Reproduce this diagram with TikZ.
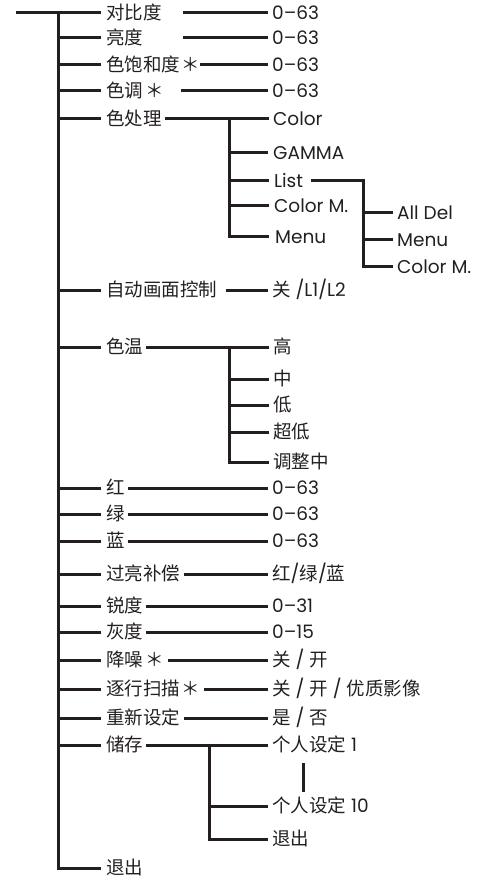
\documentclass[tikz,border=0pt]{standalone}
\usepackage{fontspec}
\setmainfont{Poppins}
\newfontfamily\cjk{Noto Sans CJK SC}
\newcommand\zh[1]{{\cjk\fontsize{18.5}{20}\selectfont #1}}
\definecolor{ink}{HTML}{231F20}
\begin{document}
\begin{tikzpicture}[x=1pt,y=-1pt,
  ln/.style={line width=3pt, draw=ink},
  lab/.style={anchor=west, inner sep=0pt, text height=13pt, text depth=0pt, text=ink,
              font=\fontsize{18.5}{20}\selectfont}]
\useasboundingbox (0,0) rectangle (494,882);
% ---------- main labels
\node[lab] (l1) at (106,13) {\zh{对比度}};
\node[lab] (l2) at (106,38) {\zh{亮度}};
\node[lab] (l3) at (106,65) {\zh{色饱和度\hspace{1pt}＊}};
\node[lab] (l4) at (106,91) {\zh{色调\hspace{2pt}＊}};
\node[lab] (l5) at (106,119) {\zh{色处理}};
\node[lab] (l6) at (106,290) {\zh{自动画面控制}};
\node[lab] (l7) at (106,347) {\zh{色温}};
\node[lab] (l8) at (106,488) {\zh{红}};
\node[lab] (l9) at (106,514) {\zh{绿}};
\node[lab] (l10) at (106,541) {\zh{蓝}};
\node[lab] (l11) at (106,574) {\zh{过亮补偿}};
\node[lab] (l12) at (106,606) {\zh{锐度}};
\node[lab] (l13) at (106,632) {\zh{灰度}};
\node[lab] (l14) at (106,660) {\zh{降噪\hspace{2pt}＊}};
\node[lab] (l15) at (106,689) {\zh{逐行扫描\hspace{1pt}＊}};
\node[lab] (l16) at (106,718) {\zh{重新设定}};
\node[lab] (l17) at (106,745) {\zh{储存}};
\node[lab] (l18) at (106,868) {\zh{退出}};
% ---------- values
\node[lab] (v1) at (272,13) {0–63};
\node[lab] (v2) at (272,38) {0–63};
\node[lab] (v3) at (272,65) {0–63};
\node[lab] (v4) at (272,91) {0–63};
\node[lab] (c1) at (273,119) {Color};
\node[lab] (c2) at (273,153) {GAMMA};
\node[lab] (c3) at (274,181) {List};
\node[lab] (c4) at (274,206) {Color M.};
\node[lab] (c5) at (275,237) {Menu};
\node[lab] (d1) at (397,213) {All Del};
\node[lab] (d2) at (397,240) {Menu};
\node[lab] (d3) at (397,267) {Color M.};
\node[lab] (v6) at (272,290) {\zh{关} /L1/L2};
\node[lab] (t1) at (273,347) {\zh{高}};
\node[lab] (t2) at (273,379) {\zh{中}};
\node[lab] (t3) at (273,405) {\zh{低}};
\node[lab] (t4) at (273,432) {\zh{超低}};
\node[lab] (t5) at (273,462) {\zh{调整中}};
\node[lab] (v8) at (272,488) {0–63};
\node[lab] (v9) at (272,514) {0–63};
\node[lab] (v10) at (272,541) {0–63};
\node[lab] (v11) at (272,574) {\zh{红}/\zh{绿}/\zh{蓝}};
\node[lab] (v12) at (272,606) {0–31};
\node[lab] (v13) at (272,632) {0–15};
\node[lab] (v14) at (272,660) {\zh{关} / \zh{开}};
\node[lab] (v15) at (272,689) {\zh{关} / \zh{开} / \zh{优质影像}};
\node[lab] (v16) at (272,718) {\zh{是} / \zh{否}};
\node[lab] (p1) at (272,745) {\zh{个人设定} 1};
\node[lab] (p2) at (272,806) {\zh{个人设定} 10};
\node[lab] (p3) at (272,839) {\zh{退出}};
% ---------- coordinates
\coordinate (root) at (16,13);
\coordinate (trunk) at (58,0);
\coordinate (subA) at (229,0);
\coordinate (subB) at (363,0);
\coordinate (subC) at (209,0);
\coordinate (dotA) at (303,763);
\coordinate (dotB) at (303,792);
% ---------- main trunk
\draw[ln] (root) -- ([xshift=-5pt]l1.west);
\draw[ln] (trunk |- l1.west) -- (trunk |- l18.west) -- ([xshift=-5pt]l18.west);
\foreach \n in {l2,l3,l4,l5,l6,l7,l8,l9,l10,l11,l12,l13,l14,l15,l16,l17}
  \draw[ln] (trunk |- \n.west) -- ([xshift=-5pt]\n.west);
% ---------- value connectors
\draw[ln] ([xshift=-4pt]v1.west) -- +(-85,0);
\draw[ln] ([xshift=-4pt]v2.west) -- +(-85,0);
\draw[ln] ([xshift=-4pt]v3.west) -- +(-68,0);
\draw[ln] ([xshift=-4pt]v4.west) -- +(-87,0);
\draw[ln] ([xshift=-4pt]c1.west) -- +(-104,0);
\draw[ln] ([xshift=-4pt]v6.west) -- +(-42,0);
\draw[ln] ([xshift=-4pt]t1.west) -- +(-123,0);
\draw[ln] ([xshift=-4pt]v8.west) -- +(-140,0);
\draw[ln] ([xshift=-4pt]v9.west) -- +(-140,0);
\draw[ln] ([xshift=-4pt]v10.west) -- +(-140,0);
\draw[ln] ([xshift=-4pt]v11.west) -- +(-84,0);
\draw[ln] ([xshift=-4pt]v12.west) -- +(-122,0);
\draw[ln] ([xshift=-4pt]v13.west) -- +(-122,0);
\draw[ln] ([xshift=-4pt]v14.west) -- +(-100,0);
\draw[ln] ([xshift=-4pt]v15.west) -- +(-64,0);
\draw[ln] ([xshift=-4pt]v16.west) -- +(-84,0);
\draw[ln] ([xshift=-4pt]p1.west) -- +(-122,0);
% ---------- colour processing subtree
\draw[ln] (subA |- c1.west) -- (subA |- c5.west) -- ([xshift=-6pt]c5.west);
\foreach \n in {c2,c3,c4}
  \draw[ln] (subA |- \n.west) -- ([xshift=-5pt]\n.west);
\draw[ln] ([xshift=8pt]c3.east) -- (subB |- c3.east) -- (subB |- d3.west) -- ([xshift=-4pt]d3.west);
\foreach \n in {d1,d2}
  \draw[ln] (subB |- \n.west) -- ([xshift=-4pt]\n.west);
% ---------- colour temperature subtree
\draw[ln] (subA |- t1.west) -- (subA |- t5.west) -- ([xshift=-4pt]t5.west);
\foreach \n in {t2,t3,t4}
  \draw[ln] (subA |- \n.west) -- ([xshift=-4pt]\n.west);
% ---------- memory subtree
\draw[ln] (subC |- p1.west) -- (subC |- p3.west) -- ([xshift=-4pt]p3.west);
\draw[ln] (subC |- p2.west) -- ([xshift=-4pt]p2.west);
\draw[ln] (dotA) -- (dotB);
\end{tikzpicture}
\end{document}
